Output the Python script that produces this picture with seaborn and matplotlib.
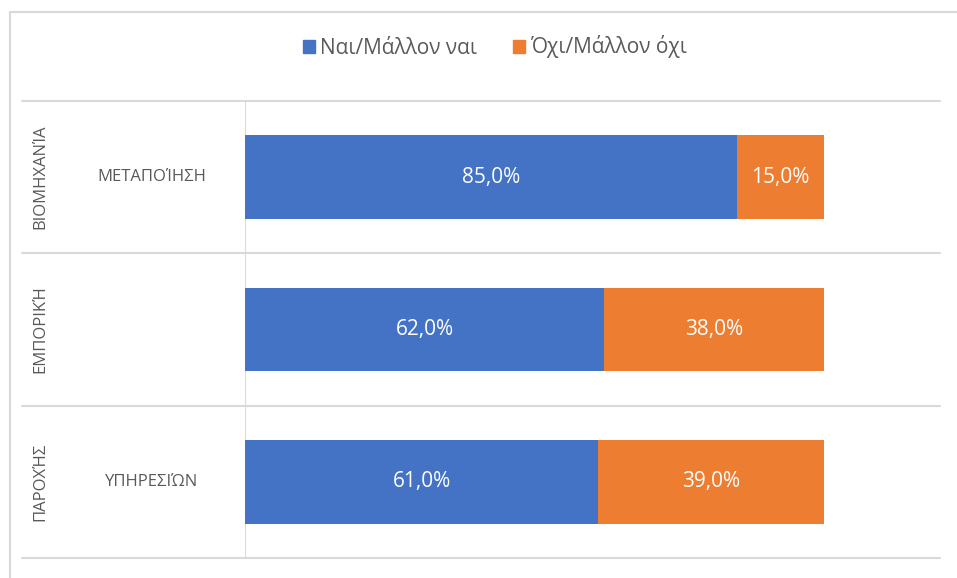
import matplotlib
matplotlib.use("Agg")
import matplotlib.pyplot as plt
import matplotlib.patches as mpatches
import matplotlib.transforms as mtrans
import seaborn as sns
import pandas as pd

# ---- data ----
groups = ["ΒΙΟΜΗΧΑΝΊΑ", "ΕΜΠΟΡΙΚΉ", "ΠΑΡΟΧΉΣ"]
subgroups = ["ΜΕΤΑΠΟΊΗΣΗ", "", "ΥΠΗΡΕΣΙΏΝ"]
yes_vals = [85.0, 62.0, 61.0]
no_vals = [15.0, 38.0, 39.0]
series_names = ["Ναι/Μάλλον ναι", "Όχι/Μάλλον όχι"]

BLUE = "#4472C4"
ORANGE = "#ED7D31"
GRID = "#D9D9D9"
TXT = "#595959"

sns.set_theme(style="white")
plt.rcParams["font.family"] = ["Open Sans", "DejaVu Sans"]

cats = [f"{g}|{s}" for g, s in zip(groups, subgroups)]
df = pd.DataFrame({
    "cat": cats,
    "yes": yes_vals,
    "no": no_vals,
})
df["total"] = df["yes"] + df["no"]

W, H = 957, 578
fig = plt.figure(figsize=(W / 100, H / 100), dpi=100)
ax_left, ax_right, ax_top, ax_bot = 245, 940, 101, 558
ax = fig.add_axes([ax_left / W, 1 - ax_bot / H, (ax_right - ax_left) / W, (ax_bot - ax_top) / H])

sns.barplot(data=df, y="cat", x="total", color=ORANGE, orient="h", width=0.55,
            saturation=1, ax=ax, errorbar=None, linewidth=0)
sns.barplot(data=df, y="cat", x="yes", color=BLUE, orient="h", width=0.55,
            saturation=1, ax=ax, errorbar=None, linewidth=0)

ax.set_xlim(0, 120)
ax.set_ylim(2.5, -0.5)
ax.set_xlabel("")
ax.set_ylabel("")
ax.set_xticks([])
ax.set_yticks([])
for sp in ax.spines.values():
    sp.set_visible(False)

def fmt(v):
    return f"{v:.1f}%".replace(".", ",")

for i, (y, n) in enumerate(zip(yes_vals, no_vals)):
    ax.text(y / 2, i, fmt(y), ha="center", va="center", color="white", fontsize=15)
    ax.text(y + n / 2, i, fmt(n), ha="center", va="center", color="white", fontsize=15)

# separators and axis line
x0 = (22 - ax_left) / (ax_right - ax_left)
for b in [-0.5, 0.5, 1.5, 2.5]:
    ax.axhline(b, xmin=x0, xmax=1, color=GRID, lw=1.5, clip_on=False, zorder=0)
ax.axvline(0, color=GRID, lw=1.5, zorder=0)

# category labels
def fx(px):
    return (px - ax_left) / (ax_right - ax_left)

trans = mtrans.blended_transform_factory(ax.transAxes, ax.transData)
for i, (g, s) in enumerate(zip(groups, subgroups)):
    ax.text(fx(40), i, g, rotation=90, ha="center", va="center", color=TXT,
            fontsize=12, transform=trans, clip_on=False)
    if s:
        ax.text(fx(152), i, s, ha="center", va="center", color=TXT,
                fontsize=12, transform=trans, clip_on=False)

# legend
handles = [mpatches.Patch(color=BLUE, label=series_names[0]),
           mpatches.Patch(color=ORANGE, label=series_names[1])]
leg = fig.legend(handles=handles, loc="center", bbox_to_anchor=(495 / W, 1 - 47 / H),
                 ncol=2, frameon=False, fontsize=15, handlelength=0.6, handleheight=0.6,
                 handletextpad=0.25, columnspacing=1.7, labelcolor=TXT)

# outer border (chart area)
fig.add_artist(plt.Line2D([10 / W, 10 / W], [0, 1 - 12 / H], transform=fig.transFigure,
                          color=GRID, lw=1.5))
fig.add_artist(plt.Line2D([10 / W, 1], [1 - 12 / H, 1 - 12 / H], transform=fig.transFigure,
                          color=GRID, lw=1.5))

fig.savefig("out.png", dpi=100, facecolor="white")
